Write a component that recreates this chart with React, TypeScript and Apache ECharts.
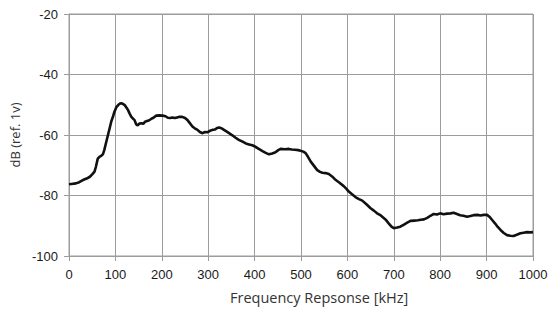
import React, { useEffect, useRef } from "react";
import * as echarts from "echarts";

const freqKHz = [
  0, 5, 15, 22, 30, 38, 45, 50, 55, 58, 62, 66, 70, 73, 76, 80, 84, 88, 91, 95,
  98, 102, 106, 110, 113, 117, 120, 124, 127, 131, 134, 138, 141, 145, 148, 152, 156, 160, 164, 168,
  172, 177, 182, 188, 195, 202, 208, 213, 218, 223, 228, 233, 238, 244, 250, 255, 260, 266, 271, 277,
  282, 288, 293, 298, 304, 309, 314, 319, 324, 329, 334, 340, 345, 352, 359, 366, 374, 381, 388, 395,
  402, 409, 417, 424, 431, 438, 445, 451, 456, 465, 474, 480, 487, 494, 499, 505, 510, 515, 521, 528,
  535, 541, 546, 553, 560, 567, 575, 583, 592, 598, 603, 610, 618, 625, 632, 641, 650, 657, 664, 672,
  682, 689, 695, 700, 707, 714, 722, 729, 736, 744, 752, 758, 765, 772, 779, 786, 793, 800, 807, 815,
  822, 829, 836, 843, 850, 858, 865, 872, 880, 887, 894, 901, 906, 912, 918, 924, 930, 937, 944, 951,
  958, 965, 973, 980, 987, 994, 1000,
];

const levelDb = [
  -76.3, -76.2, -76.0, -75.6, -74.9, -74.4, -73.8, -73.0, -72.1, -70.5, -67.8, -67.2, -66.8, -66.4, -65.0, -62.5, -60.0, -57.5, -55.6, -53.8,
  -52.3, -50.8, -50.1, -49.6, -49.5, -49.8, -50.1, -51.0, -51.7, -53.0, -53.9, -54.6, -55.0, -56.5, -56.8, -56.2, -56.1, -56.3, -55.6, -55.4,
  -55.2, -54.7, -54.3, -53.6, -53.5, -53.6, -53.8, -54.3, -54.4, -54.2, -54.4, -54.2, -54.0, -54.0, -54.4, -55.0, -56.0, -57.2, -57.8, -58.3,
  -59.0, -59.4, -59.0, -59.1, -58.6, -58.3, -58.2, -57.7, -57.5, -57.8, -58.3, -58.9, -59.4, -60.1, -60.9, -61.6, -62.2, -62.8, -63.1, -63.4,
  -63.9, -64.6, -65.3, -65.9, -66.4, -66.1, -65.7, -65.0, -64.6, -64.7, -64.6, -64.8, -64.9, -65.0, -65.2, -65.5, -66.0, -67.2, -68.8, -70.2,
  -71.6, -72.2, -72.5, -72.6, -72.9, -73.7, -74.9, -75.8, -76.9, -77.8, -78.7, -79.6, -80.6, -81.2, -81.7, -82.9, -84.2, -85.0, -85.9, -86.6,
  -87.9, -89.2, -90.3, -90.8, -90.6, -90.3, -89.6, -89.0, -88.4, -88.3, -88.2, -88.0, -87.9, -87.4, -86.7, -86.1, -86.3, -85.9, -86.2, -86.0,
  -85.9, -85.7, -86.1, -86.5, -86.7, -87.0, -86.8, -86.5, -86.4, -86.6, -86.4, -86.4, -87.0, -88.1, -89.2, -90.4, -91.4, -92.4, -93.1, -93.3,
  -93.4, -93.0, -92.5, -92.3, -92.1, -92.2, -92.1,
];

const xAxisTitle = "Frequency Repsonse [kHz]";
const yAxisTitle = "dB (ref. 1v)";

export default function App() {
  const ref = useRef<HTMLDivElement>(null);

  useEffect(() => {
    document.body.style.margin = "0";
    if (!ref.current) return;
    const chart = echarts.init(ref.current, undefined, { renderer: "svg" });
    const gridColor = "#9c9c9c";
    const tickFont = "Arial";
    const titleFont = "'Open Sans', 'Noto Sans', sans-serif";
    chart.setOption({
      animation: false,
      backgroundColor: "#ffffff",
      grid: {
        left: 68,
        right: 20,
        top: 14,
        bottom: 55,
        show: true,
        borderColor: gridColor,
        borderWidth: 1,
      },
      xAxis: {
        type: "value",
        min: 0,
        max: 1000,
        interval: 100,
        axisLine: { show: true, onZero: false, lineStyle: { color: gridColor, width: 1 } },
        axisTick: { show: true, inside: false, length: 5, lineStyle: { color: gridColor } },
        splitLine: { show: true, lineStyle: { color: gridColor, width: 1 } },
        axisLabel: {
          margin: 12,
          fontFamily: tickFont,
          fontSize: 13,
          color: "#1a1a1a",
          formatter: (v: number) => String(v),
        },
      },
      yAxis: {
        type: "value",
        min: -100,
        max: -20,
        interval: 20,
        name: yAxisTitle,
        nameLocation: "middle",
        nameGap: 48,
        nameTextStyle: {
          fontFamily: titleFont,
          fontSize: 13,
          color: "#333",
        },
        axisLine: { show: true, onZero: false, lineStyle: { color: gridColor, width: 1 } },
        axisTick: { show: true, inside: false, length: 5, lineStyle: { color: gridColor } },
        splitLine: { show: true, lineStyle: { color: gridColor, width: 1 } },
        axisLabel: {
          margin: 11,
          fontFamily: tickFont,
          fontSize: 13,
          color: "#1a1a1a",
          formatter: (v: number) => String(v),
        },
      },
      graphic: [
        {
          type: "text",
          left: 230,
          top: 290,
          style: {
            text: xAxisTitle,
            fontFamily: titleFont,
            fontSize: 14.5,
            fill: "#333",
          },
        },
      ],
      series: [
        {
          type: "line",
          data: freqKHz.map((f, i) => [f, levelDb[i]]),
          showSymbol: false,
          symbol: "none",
          lineStyle: { color: "#111", width: 2.6 },
          z: 5,
        },
      ],
    });
    return () => chart.dispose();
  }, []);

  return <div ref={ref} style={{ width: 553, height: 311 }} />;
}
